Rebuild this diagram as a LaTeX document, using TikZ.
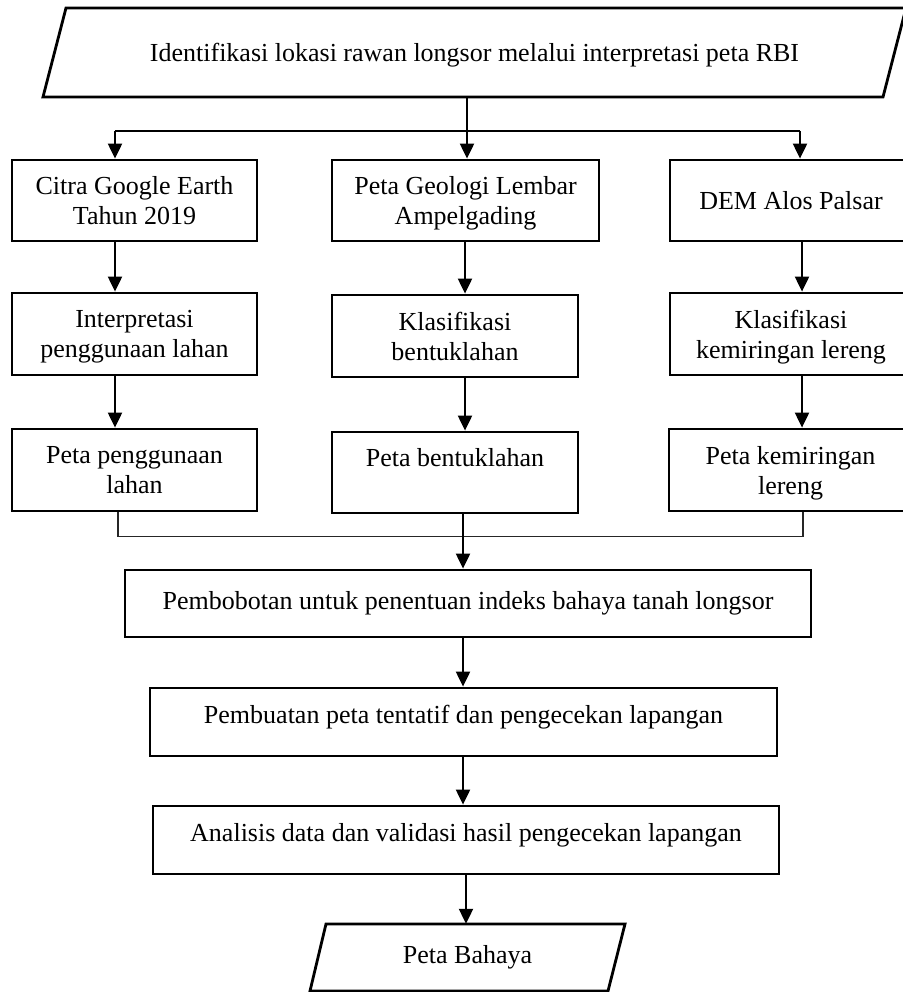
\documentclass[tikz,border=0pt]{standalone}
\usepackage{fontspec}
\setmainfont{Liberation Serif}
\usetikzlibrary{arrows.meta}
\begin{document}
\begin{tikzpicture}[x=1pt,y=-1pt,
  box/.style={draw=black, line width=2.8pt, rectangle, inner sep=0pt, align=center,
    font=\fontsize{26}{30}\selectfont, text depth=0pt},
  para/.style={draw=black, line width=2.8pt, line join=miter},
  txt/.style={inner sep=0pt, align=center, font=\fontsize{26}{30}\selectfont},
  arr/.style={draw=black, line width=2.1pt, -{Triangle[length=15pt,width=14pt]}},
  conn/.style={draw=black, line width=1.8pt},
  thinline/.style={draw=black!85, line width=1.2pt}]
\useasboundingbox (0,0) rectangle (902,992);

% top parallelogram
\node[txt, minimum width=840pt, minimum height=89pt, text depth=0pt] (top) at (474.5,52.5) {Identifikasi lokasi rawan longsor melalui interpretasi peta RBI};
\draw[para] (66,8) -- (906,8) -- (883,97) -- (43,97) -- cycle;

% row 1
\node[box, minimum width=245pt, minimum height=81pt] (B1a) at (134.5,200.5) {Citra Google Earth\\Tahun 2019};
\node[box, minimum width=267pt, minimum height=81pt] (B2a) at (465.5,200.5) {Peta Geologi Lembar\\Ampelgading};
\node[box, minimum width=242pt, minimum height=81pt] (B3a) at (791,200.5) {DEM Alos Palsar};

% row 2
\node[box, minimum width=245pt, minimum height=82pt] (B1b) at (134.5,334) {Interpretasi\\penggunaan lahan};
\node[box, minimum width=246pt, minimum height=82pt] (B2b) at (455,336) {Klasifikasi\\bentuklahan};
\node[box, minimum width=242pt, minimum height=82pt] (B3b) at (791,334) {Klasifikasi\\kemiringan lereng};

% row 3
\node[box, minimum width=245pt, minimum height=82pt] (B1c) at (134.5,470) {Peta penggunaan\\lahan};
\node[box, minimum width=246pt, minimum height=81pt] (B2c) at (455,472.5) {Peta bentuklahan\\\strut};
\node[box, minimum width=243pt, minimum height=82pt] (B3c) at (790.5,470) {Peta kemiringan\\lereng};

% lower column
\node[box, minimum width=686pt, minimum height=67pt, text depth=6pt] (P1) at (468,603.5) {Pembobotan untuk penentuan indeks bahaya tanah longsor};
\node[box, minimum width=627pt, minimum height=68pt, text height=18pt, text depth=16pt] (P2) at (463.5,722) {Pembuatan peta tentatif dan pengecekan lapangan};
\node[box, minimum width=626pt, minimum height=68pt, text height=18pt, text depth=16pt] (P3) at (466,840) {Analisis data dan validasi hasil pengecekan lapangan};

% bottom parallelogram
\node[txt, minimum width=298pt, minimum height=67pt] (out) at (467.5,957.5) {Peta Bahaya};
\draw[para] (326,924) -- (625,924) -- (608,991) -- (310,991) -- cycle;

% helper coordinates
\coordinate (xTop) at (467,0);
\coordinate (xM) at (465,0);
\coordinate (xL) at (115,0);
\coordinate (xR) at (802,0);
\coordinate (sL) at (115,131);
\coordinate (sR) at (800,131);
\coordinate (cL) at (118,536.5);
\coordinate (cR) at (803,536.5);
\coordinate (xC) at (463,0);
\coordinate (xD) at (466,0);

% top split
\draw[arr] (top.south -| xTop) -- (B2a.north -| xTop);
\draw[conn] (sL) -- (sR);
\draw[arr] (sL) -- (B1a.north -| sL);
\draw[arr] (sR) -- (B3a.north -| sR);

% columns
\draw[arr] (B1a.south -| xL) -- (B1b.north -| xL);
\draw[arr] (B1b.south -| xL) -- (B1c.north -| xL);
\draw[arr] (B2a.south -| xM) -- (B2b.north -| xM);
\draw[arr] (B2b.south -| xM) -- (B2c.north -| xM);
\draw[arr] (B3a.south -| xR) -- (B3b.north -| xR);
\draw[arr] (B3b.south -| xR) -- (B3c.north -| xR);

% collector
\draw[thinline] (B1c.south -| cL) -- (cL) -- (cR) -- (B3c.south -| cR);
\draw[arr] (B2c.south -| xC) -- (P1.north -| xC);

% main column
\draw[arr] (P1.south -| xC) -- (P2.north -| xC);
\draw[arr] (P2.south -| xC) -- (P3.north -| xC);
\draw[arr] (P3.south -| xD) -- (out.north -| xD);
\end{tikzpicture}
\end{document}
